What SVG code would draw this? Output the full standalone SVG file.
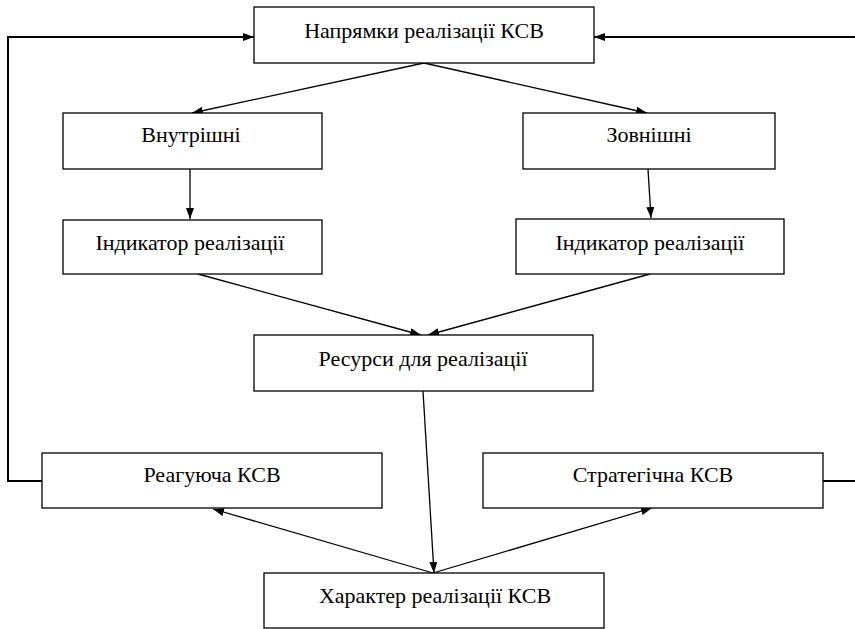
<svg xmlns="http://www.w3.org/2000/svg" width="855" height="629" viewBox="0 0 855 629">
<defs>
<marker id="arr" viewBox="0 0 11 8" refX="11" refY="4" markerWidth="11" markerHeight="8" markerUnits="userSpaceOnUse" orient="auto">
<path d="M0,0 L11,4 L0,8 z" fill="#000"/>
</marker>
<style>
.box{fill:#fff;stroke:#000;stroke-width:1.3}
.c{stroke:#000;stroke-width:1.3;fill:none}
.fb{stroke:#000;stroke-width:2;fill:none}
</style>
</defs>
<rect width="855" height="629" fill="#fff"/>
<g id="connectors">
<line class="c" x1="424" y1="63" x2="192" y2="113" marker-end="url(#arr)"/>
<line class="c" x1="424" y1="63" x2="647" y2="113" marker-end="url(#arr)"/>
<line class="c" x1="190" y1="169" x2="190" y2="219" marker-end="url(#arr)"/>
<line class="c" x1="648" y1="169" x2="651" y2="218" marker-end="url(#arr)"/>
<line class="c" x1="198" y1="274" x2="421" y2="335" marker-end="url(#arr)"/>
<line class="c" x1="650" y1="274" x2="428" y2="335" marker-end="url(#arr)"/>
<line class="c" x1="423" y1="391" x2="434" y2="573" marker-end="url(#arr)"/>
<line class="c" x1="433" y1="573" x2="213" y2="509" marker-end="url(#arr)"/>
<line class="c" x1="433" y1="573" x2="652" y2="508" marker-end="url(#arr)"/>
<polyline class="fb" points="42,481 8,481 8,37 254,37" marker-end="url(#arr)"/>
<line class="fb" x1="823" y1="481" x2="855" y2="481"/>
<line class="fb" x1="855" y1="37" x2="594" y2="37" marker-end="url(#arr)"/>
</g>
<g font-family="Liberation Serif, DejaVu Serif, serif" font-size="22" fill="#000" text-anchor="middle">
<g id="n-top"><rect class="box" x="254" y="7" width="340" height="56"/><text x="424" y="38">Напрямки реалізації КСВ</text></g>
<g id="n-vnutr"><rect class="box" x="63" y="113" width="259" height="56"/><text x="191" y="142">Внутрішні</text></g>
<g id="n-zovn"><rect class="box" x="523" y="113" width="252" height="56"/><text x="649" y="142">Зовнішні</text></g>
<g id="n-indL"><rect class="box" x="63" y="220" width="259" height="54"/><text x="190" y="250">Індикатор реалізації</text></g>
<g id="n-indR"><rect class="box" x="516" y="219" width="268" height="55"/><text x="650" y="250">Індикатор реалізації</text></g>
<g id="n-res"><rect class="box" x="254" y="335" width="339" height="56"/><text x="423" y="366">Ресурси для реалізації</text></g>
<g id="n-reag"><rect class="box" x="42" y="453" width="340" height="55"/><text x="212" y="482">Реагуюча КСВ</text></g>
<g id="n-strat"><rect class="box" x="483" y="453" width="340" height="55"/><text x="653" y="482">Стратегічна КСВ</text></g>
<g id="n-char"><rect class="box" x="264" y="573" width="340" height="55"/><text x="435" y="603">Характер реалізації КСВ</text></g>
</g>
</svg>
